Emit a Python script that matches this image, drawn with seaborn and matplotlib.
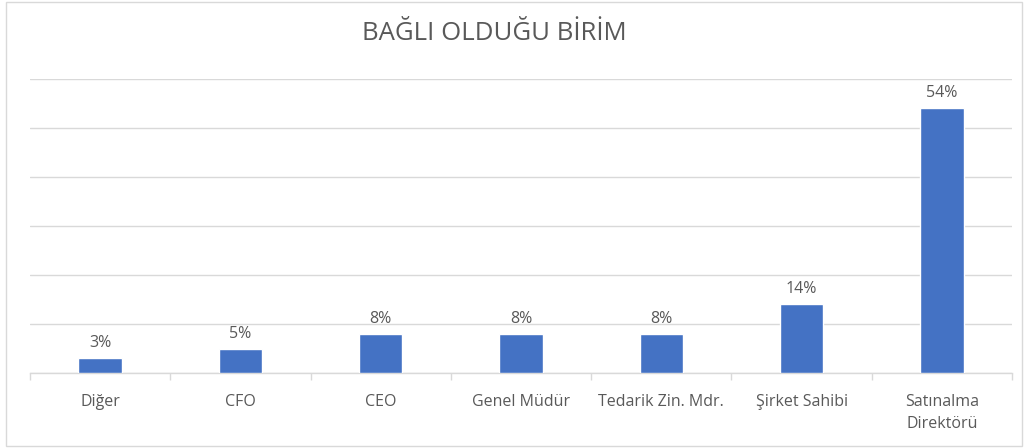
import matplotlib
matplotlib.use("Agg")
import matplotlib.pyplot as plt
import seaborn as sns
import pandas as pd
from matplotlib.patches import Rectangle

categories = ["Diğer", "CFO", "CEO", "Genel Müdür", "Tedarik Zin. Mdr.",
              "Şirket Sahibi", "Satınalma\nDirektörü"]
values = [3, 5, 8, 8, 8, 14, 54]

df = pd.DataFrame({"birim": categories, "oran": values})

sns.set_style("white")
plt.rcParams["font.family"] = ["Open Sans", "DejaVu Sans"]

text_color = "#595959"
grid_color = "#D9D9D9"

fig = plt.figure(figsize=(10.32, 4.48), dpi=100)
ax = fig.add_axes([30 / 1032, 1 - 373 / 448, 982 / 1032, 294 / 448])

sns.barplot(data=df, x="birim", y="oran", color="#4472C4", width=0.31,
            saturation=1, ax=ax, zorder=3)

ax.set_ylim(0, 60)
ax.set_xlim(-0.5, len(categories) - 0.5)
ax.set_yticks(range(0, 61, 10))
ax.yaxis.grid(True, color=grid_color, linewidth=1, zorder=0)
ax.set_yticklabels([])
ax.tick_params(axis="y", length=0)
for s in ["top", "right", "left"]:
    ax.spines[s].set_visible(False)
ax.spines["bottom"].set_color(grid_color)
ax.spines["bottom"].set_linewidth(1)

# tick marks between categories
ax.set_xticks([i + 0.5 for i in range(-1, len(categories))], minor=True)
ax.tick_params(axis="x", which="minor", bottom=True, length=5,
               color=grid_color, width=1)
ax.tick_params(axis="x", which="major", length=0, pad=15,
               labelsize=11.5, labelcolor=text_color)
ax.set_xlabel("")
ax.set_ylabel("")
for lbl in ax.get_xticklabels():
    lbl.set_verticalalignment("top")
    lbl.set_linespacing(1.5)

for i, v in enumerate(values):
    ax.annotate(f"{v}%", (i, v), xytext=(0, 5), textcoords="offset points",
                ha="center", va="bottom", fontsize=11.5, color=text_color)

fig.text(494 / 1032, 1 - 33 / 448, "BAĞLI OLDUĞU BİRİM", ha="center",
         va="center", fontsize=18.5, color=text_color)

fig.patches.append(Rectangle((6 / 1032, 2 / 448), 1016 / 1032, 444 / 448,
                             transform=fig.transFigure, fill=False,
                             edgecolor=grid_color, linewidth=1))

fig.savefig("out.png", dpi=100)
